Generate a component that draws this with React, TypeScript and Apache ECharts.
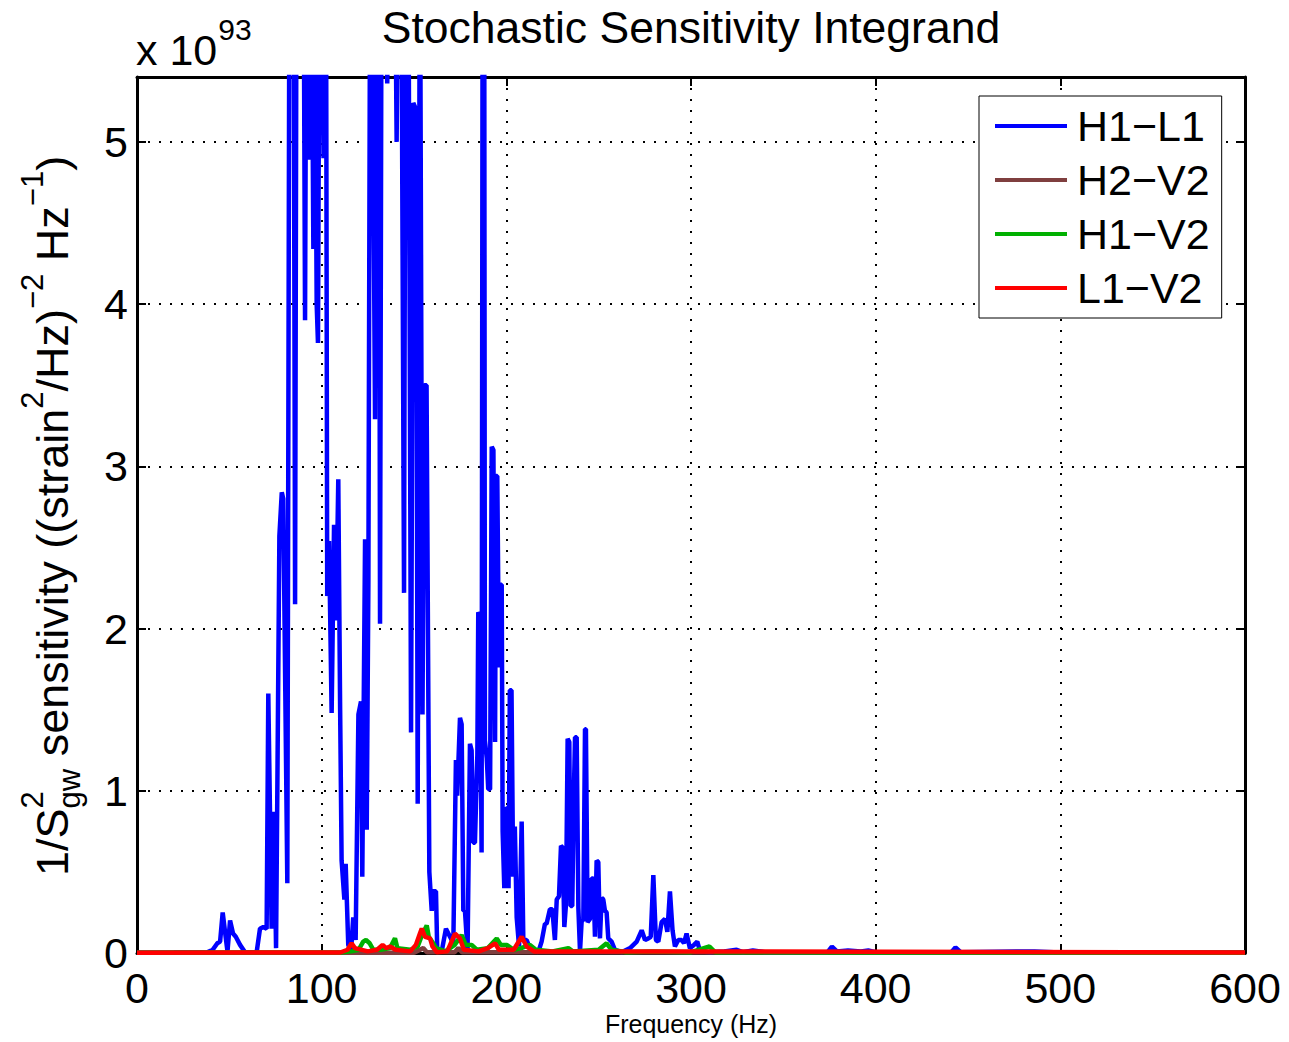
import { useEffect, useRef } from 'react';
import * as echarts from 'echarts';

const FONT = '"Liberation Sans", Arial, Helvetica, sans-serif';

const titleText = 'Stochastic Sensitivity Integrand';
const xAxisTitle = 'Frequency (Hz)';
const xTickStep = 100;
const yTickStep = 1;
const xMax = 600;
const yMax = 5.4;

const seriesNames = ['H1\u2212L1', 'H2\u2212V2', 'H1\u2212V2', 'L1\u2212V2'];
const seriesColors = ['#0000ff', '#7f3f3f', '#00b000', '#ff0000'];

// [frequency (Hz), value (x 1e93)]
const H1L1: [number, number][] = [
  [0, 0.002], [20, 0.003], [38, 0.005], [41, 0.02], [43.5, 0.06], [45, 0.07], [46.4, 0.25], [48, 0.1],
  [49, 0.01], [50.4, 0.2], [52, 0.12], [53.5, 0.1], [55.8, 0.05], [58.5, 0.005], [64.8, 0.005],
  [66.6, 0.15], [68.4, 0.16], [70.2, 0.15], [71.1, 1.6], [72.9, 0.15], [74.2, 0.87], [75.3, 0.03],
  [77.1, 2.57], [78.4, 2.84], [79.2, 2.8], [81.4, 0.43], [82.6, 6.5], [83.6, 6.5], [84.7, 6.8],
  [85.6, 2.15], [86.5, 6.8], [88, 7], [90, 6.8], [91, 3.9], [91.8, 6.5], [93.3, 4.89], [94.6, 6],
  [95.5, 4.34], [96.3, 6], [97.3, 4.0], [98, 3.76], [98.8, 6], [100, 6.5], [101, 4.9], [102.3, 6.5],
  [103, 2.2], [104, 2.54], [105.4, 1.48], [106.7, 2.64], [107.8, 2.05], [109, 2.92], [110, 1.5],
  [110.8, 0.57], [112.3, 0.33], [113, 0.55], [114.4, 0.05], [115.9, 0.01], [117.1, 0.22], [118.4, 0.08],
  [119.9, 1.47], [121.3, 1.55], [122, 0.47], [123.5, 2.55], [124.4, 0.76], [125.3, 2.29], [126.2, 6],
  [127.1, 6.5], [128.9, 3.29], [129.8, 6.5], [131, 6.5], [131.6, 2.03], [132.5, 6.5], [134, 6.5],
  [135.5, 5.36], [137, 6.5], [139.5, 6.5], [140.6, 5.0], [141.5, 6.5], [143, 6.5], [144.6, 2.22],
  [145.5, 6.5], [146.9, 6.5], [148.4, 1.36], [149.6, 5.24], [151.1, 5.2], [152, 0.92], [153.2, 6.5],
  [154.6, 1.47], [155.6, 3.5], [156.8, 3.5], [158.3, 0.5], [159.6, 0.26], [160.4, 0.38], [161.9, 0.38],
  [162.6, 0.01], [165, 0.01], [167.3, 0.15], [169.5, 0.1], [171.3, 0.06], [172.7, 1.19], [173.4, 0.97],
  [174.9, 1.45], [175.8, 1.41], [176.7, 0.26], [177.6, 0.26], [179, 0.01], [180.3, 1.29], [181.2, 1.25],
  [182.1, 0.68], [183, 0.68], [184.3, 1.22], [184.8, 2.1], [185.7, 2.08], [186.6, 0.62], [187.2, 6.5],
  [188, 6.5], [188.4, 1.31], [189.4, 1.2], [190.2, 1.01], [191.2, 1.01], [192.1, 3.12], [193, 3.1],
  [193.9, 1.3], [194.4, 2.94], [195.1, 2.94], [196, 1.76], [196.6, 2.27], [197.5, 2.27], [198, 0.75],
  [198.9, 0.4], [199.8, 0.89], [200.5, 0.89], [201.2, 0.4], [201.9, 1.62], [202.8, 1.62], [203.7, 0.47],
  [204.6, 0.78], [205.6, 0.22], [206.9, 0.04], [208.3, 0.81], [209.2, 0.08], [211, 0.08], [212.8, 0.03],
  [217.3, 0.005], [219.1, 0.07], [220.9, 0.18], [221.8, 0.18], [223.6, 0.27], [224.9, 0.27], [226.3, 0.08],
  [227.3, 0.33], [228.5, 0.35], [229.6, 0.66], [230.5, 0.65], [231.4, 0.16], [232.3, 0.3], [233.2, 1.32],
  [234.1, 1.3], [234.8, 0.29], [235.7, 0.29], [236.6, 1.0], [237.2, 1.33], [238.1, 1.33], [239, 0.28],
  [239.9, 0.01], [240.8, 0.2], [241.7, 0.2], [242.6, 1.38], [243.1, 1.38], [244, 0.19], [245.3, 0.21],
  [246.2, 0.46], [247.1, 0.46], [248, 0.1], [248.9, 0.57], [249.8, 0.56], [250.7, 0.09], [251.6, 0.34],
  [252.5, 0.33], [253.4, 0.26], [254.3, 0.25], [255.2, 0.09], [257, 0.07], [258.8, 0.02], [262.4, 0.005],
  [267, 0.03], [270.6, 0.07], [273.3, 0.14], [275.1, 0.08], [276.9, 0.09], [278.2, 0.1], [279.6, 0.48],
  [281, 0.08], [282.3, 0.07], [284.1, 0.19], [285.9, 0.21], [287.2, 0.13], [288.6, 0.38], [290, 0.14],
  [291.3, 0.04], [293.1, 0.08], [294.9, 0.08], [296.2, 0.06], [297.6, 0.12], [299.4, 0.03], [301.6, 0.05],
  [303.4, 0.07], [304.9, 0.01], [310, 0.005], [318, 0.01], [324.7, 0.02], [328, 0.005], [333.5, 0.015],
  [340, 0.005], [360, 0.005], [374, 0.005], [376.3, 0.04], [379, 0.01], [385, 0.015], [392, 0.01], [396, 0.015],
  [400, 0.005], [420, 0.005], [441, 0.005], [443.2, 0.035], [446, 0.005], [476.2, 0.01], [486, 0.01], [500, 0.003],
  [600, 0.003],
];

const H2V2: [number, number][] = [
  [0, 0.001], [150, 0.002], [155, 0.03], [157, 0.005], [172, 0.005], [174, 0.03], [176, 0.005], [600, 0.001],
];

const H1V2: [number, number][] = [
  [0, 0.002], [110, 0.003], [116, 0.01], [120, 0.02], [122.5, 0.07], [124, 0.08], [126, 0.06], [128, 0.02],
  [132, 0.02], [137, 0.03], [139.7, 0.09], [141, 0.03], [148, 0.02], [152, 0.04], [154, 0.1], [156.9, 0.17],
  [158, 0.1], [160.4, 0.06], [162, 0.03], [167, 0.01], [172, 0.05], [175.8, 0.11], [178, 0.05], [181.2, 0.05],
  [184, 0.02], [190, 0.03], [194.8, 0.09], [197, 0.05], [200.2, 0.05], [204, 0.02], [208, 0.03], [212.8, 0.05],
  [216, 0.02], [225, 0.01], [233.6, 0.03], [236, 0.01], [250, 0.02], [254.3, 0.06], [257, 0.02], [265, 0.005],
  [279, 0.01], [300, 0.005], [310, 0.04], [313, 0.005], [400, 0.003], [600, 0.002],
];

const L1V2: [number, number][] = [
  [0, 0.002], [110, 0.003], [114, 0.02], [116.2, 0.06], [118, 0.03], [125, 0.01], [130, 0.02], [133, 0.05],
  [135, 0.03], [137, 0.04], [140, 0.02], [148, 0.01], [151, 0.05], [153.2, 0.12], [154.2, 0.15], [156, 0.1],
  [158.7, 0.09], [160, 0.04], [162.3, 0.005], [168, 0.01], [172.2, 0.12], [174.9, 0.09], [177, 0.02],
  [185, 0.01], [190, 0.03], [193.9, 0.06], [196, 0.02], [204, 0.02], [208.3, 0.1], [211, 0.04], [215, 0.01],
  [240, 0.01], [280, 0.01], [300, 0.01], [600, 0.003],
];

const seriesData = [H1L1, H2V2, H1V2, L1V2];

// y-axis label pieces: [text, isSmall, baseline shift factor, stackWithNext]
const yLabelPieces: [string, boolean, number, boolean][] = [
  ['1/S', false, 0, false],
  ['2', true, -0.55, true],
  ['gw', true, 0.28, false],
  [' sensitivity ((strain', false, 0, false],
  ['2', true, -0.55, false],
  ['/Hz)', false, 0, false],
  ['\u22122', true, -0.55, false],
  [' Hz', false, 0, false],
  ['\u22121', true, -0.55, false],
  [')', false, 0, false],
];

export default function App() {
  const ref = useRef<HTMLDivElement>(null);
  useEffect(() => {
    document.body.style.margin = '0';
    if (!ref.current) return;
    const chart = echarts.init(ref.current, undefined, { renderer: 'svg' });

    const canvas = document.createElement('canvas');
    const ctx = canvas.getContext('2d')!;
    const measure = (t: string, size: number) => {
      ctx.font = `${size}px "Liberation Sans"`;
      return ctx.measureText(t).width;
    };

    const F = 45;
    const S = 31;
    const yLabelChildren: any[] = [];
    let pos = 0;
    let pendingAdv = 0;
    yLabelPieces.forEach(([t, small, shift, stack]) => {
      const size = small ? S : F;
      const w = measure(t, size);
      const baseline = shift * F;
      yLabelChildren.push({
        type: 'text',
        x: pos,
        y: baseline - 0.35 * size,
        style: { text: t, fontSize: size, fontFamily: FONT, fill: '#000', align: 'left', verticalAlign: 'middle' },
      });
      if (stack) {
        pendingAdv = Math.max(pendingAdv, w);
      } else {
        pos += Math.max(pendingAdv, w);
        pendingAdv = 0;
      }
    });

    const x10size = 43;
    const x10w = measure('x 10', x10size);

    const axisCommon = {
      type: 'value' as const,
      axisLine: { show: true, onZero: false, lineStyle: { color: '#000', width: 3 } },
      axisTick: { show: true, inside: true, length: 9, lineStyle: { color: '#000', width: 2 } },
    };

    chart.setOption({
      animation: false,
      backgroundColor: '#fff',
      grid: { left: 137, top: 77, right: 44, bottom: 89, containLabel: false },
      xAxis: [
        {
          ...axisCommon,
          min: 0,
          max: xMax,
          interval: xTickStep,
          position: 'bottom',
          axisLabel: { fontSize: 43, fontFamily: FONT, color: '#000', margin: 13 },
          splitLine: { show: true, lineStyle: { color: '#000', width: 2, type: [2, 9] } },
        },
        {
          ...axisCommon,
          min: 0,
          max: xMax,
          interval: xTickStep,
          position: 'top',
          axisLabel: { show: false },
          splitLine: { show: false },
        },
      ],
      yAxis: [
        {
          ...axisCommon,
          min: 0,
          max: yMax,
          interval: yTickStep,
          position: 'left',
          axisLabel: { fontSize: 43, fontFamily: FONT, color: '#000', margin: 9, showMaxLabel: false },
          splitLine: { show: true, lineStyle: { color: '#000', width: 2, type: [2, 9] } },
        },
        {
          ...axisCommon,
          min: 0,
          max: yMax,
          interval: yTickStep,
          position: 'right',
          axisLabel: { show: false },
          splitLine: { show: false },
        },
      ],
      legend: {
        orient: 'vertical',
        left: 979,
        top: 96,
        padding: [8, 12, 8, 16],
        itemWidth: 72,
        itemHeight: 4,
        itemGap: 10,
        icon: 'rect',
        borderColor: '#000',
        borderWidth: 1,
        backgroundColor: '#fff',
        selectedMode: false,
        textStyle: { fontSize: 43, fontFamily: FONT, color: '#000', lineHeight: 44, padding: [0, 0, 0, 5] },
        data: seriesNames,
      },
      series: seriesNames.map((name, i) => ({
        name,
        type: 'line',
        xAxisIndex: 0,
        yAxisIndex: 0,
        data: seriesData[i],
        showSymbol: false,
        symbol: 'none',
        color: seriesColors[i],
        lineStyle: { color: seriesColors[i], width: 4.5 },
        itemStyle: { color: seriesColors[i] },
        z: 2 + i,
        clip: true,
      })),
      graphic: [
        {
          type: 'text',
          x: 691,
          y: 43 - 0.35 * 44.5,
          style: { text: titleText, fontSize: 44.5, fontFamily: FONT, fill: '#000', align: 'center', verticalAlign: 'middle' },
        },
        {
          type: 'text',
          x: 691,
          y: 1024,
          style: { text: xAxisTitle, fontSize: 25, fontFamily: FONT, fill: '#000', align: 'center', verticalAlign: 'middle' },
        },
        {
          type: 'text',
          x: 136,
          y: 65 - 0.35 * x10size,
          style: { text: 'x 10', fontSize: x10size, fontFamily: FONT, fill: '#000', align: 'left', verticalAlign: 'middle' },
        },
        {
          type: 'text',
          x: 136 + x10w + 1,
          y: 40 - 0.35 * 30,
          style: { text: '93', fontSize: 30, fontFamily: FONT, fill: '#000', align: 'left', verticalAlign: 'middle' },
        },
        {
          type: 'group',
          x: 68,
          y: 876,
          rotation: Math.PI / 2,
          children: yLabelChildren,
        },
      ],
    });
    return () => chart.dispose();
  }, []);
  return <div ref={ref} style={{ width: 1289, height: 1042 }} />;
}
